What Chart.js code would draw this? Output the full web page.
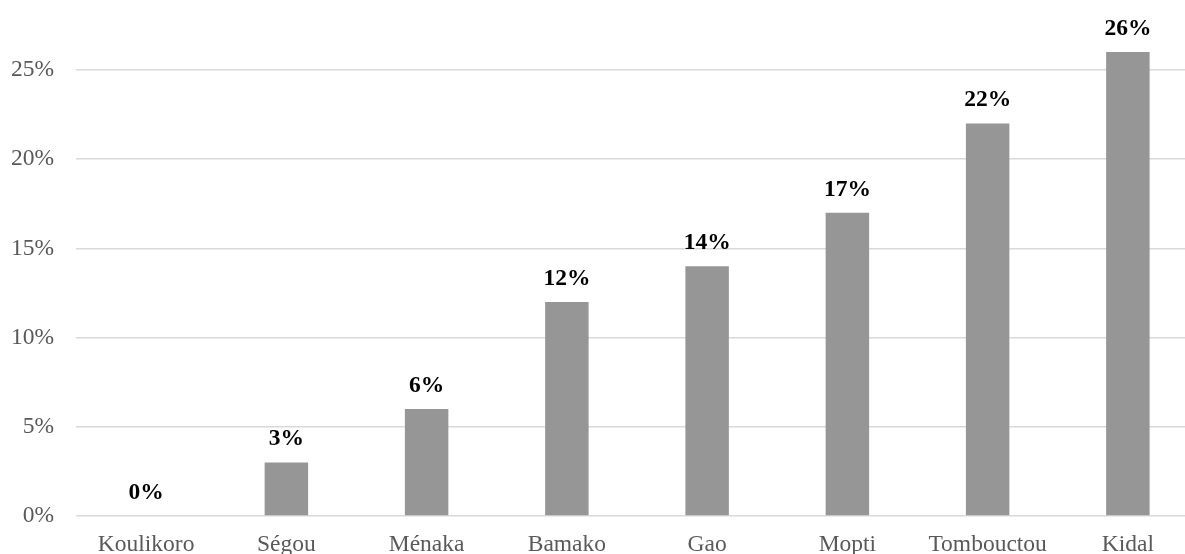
<!DOCTYPE html>
<html>
<head>
<meta charset="utf-8">
<script src="https://cdn.jsdelivr.net/npm/chart.js@4"></script>
<style>
  html, body { margin: 0; padding: 0; background: #fff; overflow: hidden; }
  #wrap { position: absolute; left: 0; top: -34px; width: 1198px; height: 588px; }
</style>
</head>
<body>
<div id="wrap"><canvas id="myChart"></canvas></div>
<script>
// Régions et valeurs (%)
const regions = ['Koulikoro', 'Ségou', 'Ménaka', 'Bamako', 'Gao', 'Mopti', 'Tombouctou', 'Kidal'];
const values = [0, 3, 6, 12, 14, 17, 22, 26];
const yTicks = [0, 5, 10, 15, 20, 25];

const serif = '"Liberation Serif", "Times New Roman", serif';

// Étiquettes au-dessus des barres
const barLabels = {
    id: 'barLabels',
    afterDatasetsDraw(chart) {
        const ctx = chart.ctx;
        const meta = chart.getDatasetMeta(0);
        ctx.save();
        ctx.font = 'bold 23.5px ' + serif;
        ctx.fillStyle = '#000';
        ctx.textAlign = 'center';
        ctx.textBaseline = 'alphabetic';
        meta.data.forEach((bar, i) => {
            ctx.fillText(values[i] + '%', bar.x, bar.y - 17);
        });
        ctx.restore();
    }
};

const ctx = document.getElementById('myChart').getContext('2d');
new Chart(ctx, {
    type: 'bar',
    data: {
        labels: regions,
        datasets: [{
            data: values,
            backgroundColor: '#969696',
            barPercentage: 0.31,
            categoryPercentage: 1
        }]
    },
    options: {
        responsive: true,
        maintainAspectRatio: false,
        animation: false,
        layout: { padding: 0 },
        plugins: {
            legend: { display: false },
            tooltip: { enabled: false }
        },
        scales: {
            x: {
                grid: { display: false, drawTicks: false },
                border: { display: false },
                ticks: {
                    color: '#595959',
                    font: { family: serif, size: 23.5 },
                    padding: 15,
                    maxRotation: 0,
                    autoSkip: false
                },
                afterFit(scale) { scale.height = 38; }
            },
            y: {
                min: 0,
                max: 28.8,
                afterBuildTicks(scale) {
                    scale.ticks = yTicks.map(v => ({ value: v }));
                },
                grid: { color: '#d9d9d9', lineWidth: 1.5, drawTicks: false },
                border: { display: false },
                ticks: {
                    color: '#595959',
                    font: { family: serif, size: 23.5 },
                    padding: 22,
                    callback: v => v + '%'
                },
                afterFit(scale) { scale.width = 76; }
            }
        }
    },
    plugins: [barLabels]
});
</script>
</body>
</html>
